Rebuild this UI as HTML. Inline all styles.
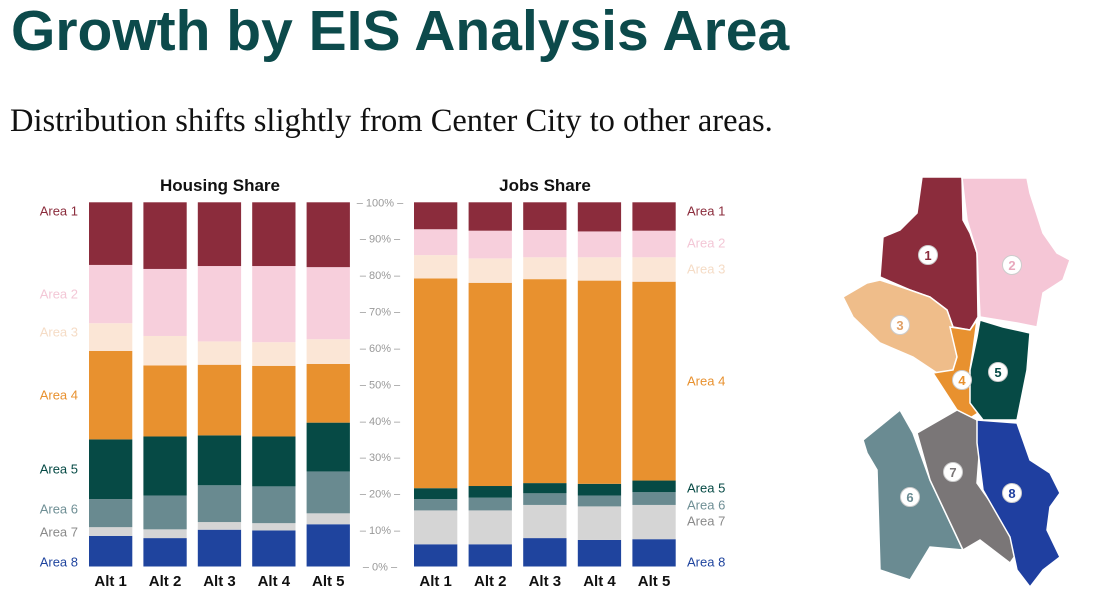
<!DOCTYPE html>
<html><head><meta charset="utf-8"><style>
body{margin:0;background:#fff;width:1116px;height:607px;overflow:hidden;position:relative;font-family:"Liberation Sans",sans-serif}
#title{position:absolute;left:11px;top:-2px;font-size:57px;font-weight:bold;color:#0c4a4b;white-space:nowrap}
#sub{position:absolute;left:10px;top:103px;font-family:"Liberation Serif",serif;font-size:32.5px;color:#111;white-space:nowrap}
svg{position:absolute;left:0;top:0}
</style></head><body>
<div id="title">Growth by EIS Analysis Area</div>
<div id="sub">Distribution shifts slightly from Center City to other areas.</div>
<svg id="chart" width="1116" height="607"></svg>
<script>
const areas=["Area 1","Area 2","Area 3","Area 4","Area 5","Area 6","Area 7","Area 8"];
const alts=["Alt 1","Alt 2","Alt 3","Alt 4","Alt 5"];
const ticks=[0,10,20,30,40,50,60,70,80,90,100];
// stacked from bottom: Area 8 ... Area 1, per alt
const housingA8=[8.4,7.8,10.1,9.9,11.6];
const housingA7=[2.4,2.4,2.1,2.0,3.0];
const housingA6=[7.7,9.3,10.1,10.1,11.5];
const housingA5=[16.4,16.2,13.7,13.7,13.4];
const housingA4=[24.3,19.5,19.4,19.4,16.1];
const housingA3=[7.6,8.1,6.4,6.5,6.8];
const housingA2=[16.0,18.4,20.7,20.9,19.8];
const housingA1=[17.2,18.3,17.5,17.5,17.8];
const jobsA8=[6.1,6.1,7.8,7.3,7.5];
const jobsA7=[9.3,9.3,9.1,9.2,9.4];
const jobsA6=[3.1,3.5,3.2,3.0,3.5];
const jobsA5=[3.0,3.2,2.8,3.2,3.2];
const jobsA4=[57.6,55.8,56.0,55.8,54.6];
const jobsA3=[6.4,6.7,6.0,6.4,6.7];
const jobsA2=[7.1,7.6,7.5,7.1,7.3];
const jobsA1=[7.4,7.8,7.6,8.0,7.8];

const colors=["#8b2c3c","#f7cfdc","#fbe6d6","#e8912f","#064a45","#698a90","#d5d5d5","#1f449e"];
const labelColors=["#8b2c3c","#f3c7d6","#f5dcc6","#e8912f","#064a45","#6f8f95","#8a8a8a","#1f449e"];
const NS="http://www.w3.org/2000/svg";
const svg=document.getElementById('chart');
const y0=566.5,y100=202.3;
function y(v){return y0-(y0-y100)*v/100;}
function mk(tag,attrs,parent){const e=document.createElementNS(NS,tag);for(const k in attrs)e.setAttribute(k,attrs[k]);(parent||svg).appendChild(e);return e;}
function txt(s,x,yy,attrs,parent){const t=mk('text',Object.assign({x:x,y:yy},attrs),parent);t.textContent=s;return t;}

function drawStack(series,x0,pitch,w,prefix){
  const g=mk('g',{});
  
  
  alts.forEach((a,i)=>{
    let cum=0;
    for(let k=7;k>=0;k--){
      const v=series[k][i];
      const r=mk('rect',{x:x0+i*pitch,y:y(cum+v),width:w,height:y(cum)-y(cum+v),fill:colors[k]},g);
      
      
      cum+=v;
    }
    const t=txt(a,x0+i*pitch+w/2,586,{'text-anchor':'middle','font-size':'15','font-weight':'bold',fill:'#111'});
    
    
  });
}
drawStack([housingA1,housingA2,housingA3,housingA4,housingA5,housingA6,housingA7,housingA8],89,54.4,43.3,'housing');
drawStack([jobsA1,jobsA2,jobsA3,jobsA4,jobsA5,jobsA6,jobsA7,jobsA8],414,54.6,43.3,'jobs');

let t=txt("Housing Share",220,191,{'text-anchor':'middle','font-size':'17','font-weight':'bold',fill:'#111'});

t=txt("Jobs Share",545,191,{'text-anchor':'middle','font-size':'17','font-weight':'bold',fill:'#111'});


ticks.forEach(v=>{
  const tt=txt("– "+v+"% –",380,y(v)+4,{'text-anchor':'middle','font-size':'11',fill:'#999'});
  
  
});

function midLabels(xx,anchor,prefix,pos){
  areas.forEach((a,k)=>{
    const tt=txt(a,xx,pos[k]+4.5,{'text-anchor':anchor,'font-size':'13',fill:labelColors[k]});
    
    
  });
}
midLabels(78,'end','housing',[211,294,332,395,469,509,532,562]);
midLabels(687,'start','jobs',[211,243,269,381,488,505,521,562]);

const map=mk('g',{});


const polys=[
 "922,177 962,177 963,220 970,233 977,253 978,317 970,330 953,327 947,310 930,297 910,290 880,277 883,237 900,230 917,213",
 "962,178 1027,178 1030,193 1043,233 1057,253 1070,260 1063,280 1043,293 1037,327 1017,323 980,317 977,253 967,220",
 "843,297 867,283 880,280 910,290 930,297 947,310 953,327 957,357 953,370 937,373 913,357 880,343 853,317",
 "950,327 970,330 977,320 973,350 970,370 973,403 983,410 967,420 957,410 933,373 953,370 957,357",
 "980,320 1003,327 1030,333 1027,370 1017,420 983,420 970,403 970,370 977,337",
 "863,440 900,410 913,433 930,480 963,550 930,547 910,580 880,570 877,470 867,453",
 "917,433 957,410 977,420 980,443 977,483 1003,520 1017,553 1010,563 980,540 963,550 930,480",
 "977,420 1017,423 1030,460 1050,473 1060,493 1050,507 1047,530 1060,557 1043,570 1030,587 1017,570 1010,537 983,490 977,443"];
const mapCols=["#8b2c3c","#f5c6d6","#efbd8a","#e8912f","#064a45","#6a8b92","#7a7677","#1f3fa0"];
const circ=[[928,255],[1012,265],[900,325],[962,380],[998,372],[910,497],[953,472],[1012,493]];
polys.forEach((p,i)=>{
  const pg=mk('polygon',{points:p,fill:mapCols[i],stroke:'#fff','stroke-width':'1.5'},map);
  
  
});
circ.forEach((c,i)=>{
  const cc=mk('circle',{cx:c[0],cy:c[1],r:9.5,fill:'#fff',stroke:'#ccc','stroke-width':'1'},map);
  
  
  const tt=txt(String(i+1),c[0],c[1]+5,{'text-anchor':'middle','font-size':'13','font-weight':'bold',fill:i===1?"#e8a8bd":(i===2?"#e0a066":mapCols[i])},map);
  
  
});
</script>
</body></html>
